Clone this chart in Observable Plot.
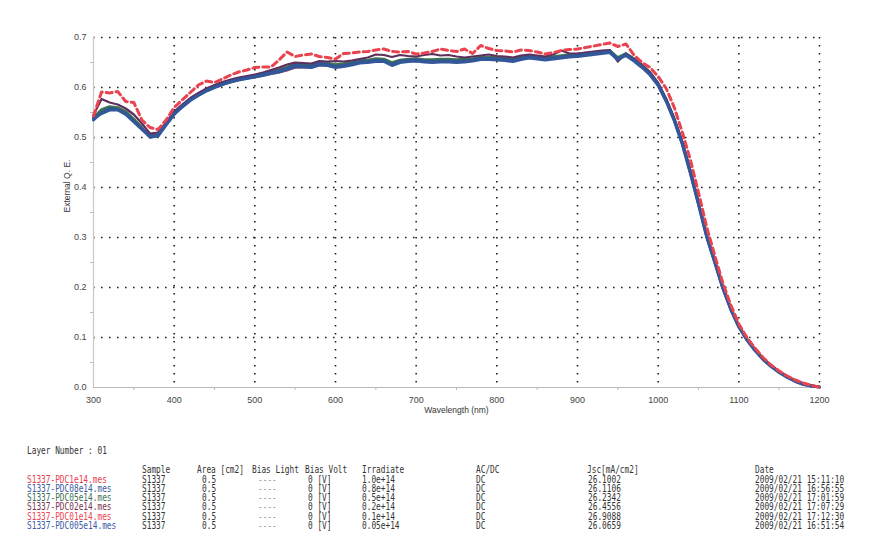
<!DOCTYPE html>
<html>
<head>
<meta charset="utf-8">
<script src="https://cdn.jsdelivr.net/npm/d3@7"></script>
<script src="https://cdn.jsdelivr.net/npm/@observablehq/plot@0.6"></script>
<style>
  html, body { margin: 0; padding: 0; background: #fff; }
  body { position: relative; width: 894px; height: 552px; overflow: hidden; }
  #chart { position: absolute; left: 0; top: 0; }
  .cell { position: absolute; font: 10px "DejaVu Sans Mono", monospace; line-height: 9px;
          transform: scaleX(0.78); transform-origin: 0 0; white-space: pre; color: #333; }
</style>
</head>
<body>
<div id="chart"></div>
<div id="table"></div>
<script>
// ---------- data ----------
const wavelength = [300,310,320,330,340,350,360,370,380,390,400,410,420,430,440,450,460,470,480,490,500,510,520,530,540,550,560,570,580,590,600,610,620,630,640,650,660,670,680,690,700,710,720,730,740,750,760,770,780,790,800,810,820,830,840,850,860,870,880,890,900,910,920,930,940,950,960,970,980,990,1000,1010,1020,1030,1040,1050,1060,1070,1080,1090,1100,1110,1120,1130,1140,1150,1160,1170,1180,1190,1200];

const qe_PDC1e14 = [0.543,0.591,0.589,0.592,0.572,0.570,0.535,0.520,0.516,0.535,
  0.560,0.575,0.590,0.605,0.613,0.610,0.617,0.625,0.631,0.635,
  0.640,0.641,0.641,0.655,0.671,0.662,0.665,0.667,0.662,0.660,
  0.657,0.668,0.669,0.671,0.672,0.675,0.677,0.672,0.671,0.672,
  0.667,0.669,0.672,0.677,0.674,0.672,0.677,0.668,0.684,0.678,
  0.674,0.673,0.671,0.675,0.674,0.671,0.667,0.670,0.674,0.676,
  0.677,0.680,0.683,0.686,0.689,0.682,0.687,0.665,0.650,0.640,
  0.622,0.598,0.560,0.510,0.455,0.390,0.322,0.265,0.210,0.165,
  0.127,0.100,0.079,0.060,0.045,0.033,0.023,0.015,0.009,0.004,0.001];

const qe_PDC08e14 = [0.535,0.550,0.558,0.556,0.548,0.533,0.518,0.503,0.505,0.527,
  0.548,0.562,0.575,0.585,0.594,0.601,0.607,0.612,0.616,0.619,
  0.622,0.626,0.630,0.633,0.638,0.644,0.643,0.642,0.648,0.646,
  0.642,0.644,0.647,0.651,0.652,0.654,0.654,0.646,0.652,0.654,
  0.655,0.653,0.652,0.653,0.653,0.652,0.653,0.655,0.658,0.658,
  0.657,0.656,0.654,0.658,0.661,0.659,0.657,0.659,0.661,0.663,
  0.664,0.666,0.668,0.670,0.672,0.657,0.666,0.655,0.642,0.627,
  0.606,0.574,0.535,0.488,0.430,0.368,0.303,0.252,0.200,0.157,
  0.122,0.096,0.075,0.057,0.043,0.031,0.021,0.013,0.007,0.003,0.001];

const qe_PDC05e14 = [0.540,0.556,0.562,0.560,0.552,0.537,0.520,0.500,0.503,0.528,
  0.550,0.564,0.577,0.587,0.596,0.603,0.609,0.614,0.618,0.621,
  0.624,0.628,0.632,0.636,0.641,0.647,0.646,0.645,0.650,0.649,
  0.646,0.648,0.651,0.654,0.655,0.658,0.657,0.650,0.655,0.657,
  0.658,0.656,0.656,0.657,0.657,0.656,0.657,0.658,0.661,0.661,
  0.660,0.659,0.658,0.661,0.664,0.662,0.661,0.662,0.664,0.666,
  0.667,0.669,0.670,0.672,0.674,0.660,0.668,0.658,0.645,0.630,
  0.608,0.576,0.537,0.490,0.432,0.369,0.304,0.253,0.201,0.158,
  0.123,0.097,0.076,0.058,0.044,0.032,0.022,0.014,0.008,0.004,0.001];

const qe_PDC02e14 = [0.545,0.577,0.570,0.566,0.558,0.546,0.528,0.508,0.510,0.530,
  0.552,0.566,0.579,0.589,0.598,0.605,0.611,0.616,0.620,0.623,
  0.626,0.630,0.635,0.640,0.646,0.650,0.649,0.648,0.653,0.652,
  0.653,0.652,0.654,0.657,0.660,0.666,0.665,0.661,0.665,0.663,
  0.662,0.665,0.667,0.664,0.665,0.662,0.660,0.662,0.664,0.666,
  0.663,0.662,0.660,0.664,0.666,0.664,0.662,0.666,0.674,0.668,
  0.668,0.670,0.672,0.674,0.675,0.652,0.668,0.657,0.645,0.630,
  0.609,0.577,0.538,0.491,0.433,0.370,0.305,0.254,0.201,0.158,
  0.123,0.097,0.076,0.058,0.044,0.032,0.022,0.014,0.008,0.004,0.001];

const qe_PDC01e14 = [0.538,0.553,0.560,0.557,0.549,0.534,0.518,0.505,0.507,0.529,
  0.549,0.563,0.575,0.585,0.594,0.600,0.606,0.611,0.615,0.618,
  0.621,0.624,0.627,0.630,0.634,0.640,0.640,0.640,0.645,0.644,
  0.641,0.643,0.646,0.650,0.651,0.653,0.653,0.647,0.651,0.653,
  0.654,0.652,0.651,0.652,0.652,0.651,0.652,0.654,0.657,0.657,
  0.656,0.655,0.653,0.657,0.660,0.658,0.656,0.658,0.660,0.662,
  0.663,0.665,0.667,0.669,0.671,0.658,0.666,0.656,0.643,0.628,
  0.608,0.577,0.538,0.492,0.435,0.372,0.307,0.255,0.203,0.159,
  0.123,0.097,0.076,0.058,0.043,0.031,0.021,0.013,0.007,0.003,0.001];

const qe_PDC005e14 = [0.538,0.548,0.555,0.555,0.546,0.531,0.516,0.501,0.503,0.525,
  0.546,0.561,0.574,0.584,0.593,0.600,0.606,0.611,0.615,0.618,
  0.621,0.624,0.628,0.631,0.636,0.641,0.641,0.640,0.645,0.644,
  0.640,0.642,0.645,0.649,0.650,0.652,0.652,0.644,0.650,0.652,
  0.653,0.651,0.650,0.651,0.651,0.650,0.651,0.653,0.656,0.656,
  0.655,0.654,0.652,0.656,0.659,0.657,0.655,0.657,0.659,0.661,
  0.662,0.664,0.666,0.668,0.670,0.656,0.664,0.653,0.640,0.625,
  0.604,0.572,0.533,0.486,0.428,0.366,0.302,0.251,0.199,0.156,
  0.121,0.095,0.074,0.056,0.042,0.030,0.020,0.012,0.006,0.003,0.001];

const xTicks = [300,400,500,600,700,800,900,1000,1100,1200];
const yTicks = [0.0,0.1,0.2,0.3,0.4,0.5,0.6,0.7];
const yMinorTicks = [0.05,0.15,0.25,0.35,0.45,0.55,0.65];
const xMinorTicks = [350,450,550,650,750,850,950,1050,1150];

// table
const fileNames = ["S1337-PDC1e14.mes","S1337-PDC08e14.mes","S1337-PDC05e14.mes","S1337-PDC02e14.mes","S1337-PDC01e14.mes","S1337-PDC005e14.mes"];
const fileColors = ["#e8414e","#3a5a9e","#3d6e55","#7a3450","#ee4452","#3a5aa6"];
const samples = ["S1337","S1337","S1337","S1337","S1337","S1337"];
const areas = ["0.5","0.5","0.5","0.5","0.5","0.5"];
const biasLight = ["----","----","----","----","----","----"];
const biasVolt = ["0 [V]","0 [V]","0 [V]","0 [V]","0 [V]","0 [V]"];
const irradiate = ["1.0e+14","0.8e+14","0.5e+14","0.2e+14","0.1e+14","0.05e+14"];
const acdc = ["DC","DC","DC","DC","DC","DC"];
const jsc = ["26.1002","26.1106","26.2342","26.4556","26.9088","26.0659"];
const dates = ["2009/02/21 15:11:10","2009/02/21 16:56:55","2009/02/21 17:01:59","2009/02/21 17:07:29","2009/02/21 17:12:30","2009/02/21 16:51:54"];

// ---------- chart ----------
const seriesDefs = [
  {name: "PDC01e14", values: qe_PDC01e14, color: "#e8414e", width: 2.2, dash: null},
  {name: "PDC05e14", values: qe_PDC05e14, color: "#3d7452", width: 2.6, dash: null},
  {name: "PDC02e14", values: qe_PDC02e14, color: "#5e2f5c", width: 2.2, dash: null},
  {name: "PDC08e14", values: qe_PDC08e14, color: "#2f5596", width: 3.0, dash: null},
  {name: "PDC005e14", values: qe_PDC005e14, color: "#33589a", width: 3.0, dash: null},
  {name: "PDC1e14", values: qe_PDC1e14, color: "#e8434f", width: 3.0, dash: "6,4"}
];

const lineMarks = seriesDefs.map(s => Plot.lineY(
  wavelength.map((w, i) => ({w, v: s.values[i]})),
  {x: "w", y: "v", stroke: s.color, strokeWidth: s.width, strokeDasharray: s.dash,
   strokeLinejoin: "round"}
));

const chart = Plot.plot({
  width: 894,
  height: 425,
  marginLeft: 93,
  marginRight: 75,
  marginTop: 37,
  marginBottom: 38,
  style: {fontFamily: "Liberation Sans, Arial, sans-serif", background: "#fff"},
  x: {type: "linear", domain: [300, 1200]},
  y: {type: "linear", domain: [0, 0.7]},
  marks: [
    Plot.gridX(xTicks.slice(1), {stroke: "#222", strokeOpacity: 1, strokeWidth: 1.6, strokeDasharray: "1.6,6.4"}),
    Plot.gridY(yTicks.slice(1), {stroke: "#222", strokeOpacity: 1, strokeWidth: 1.6, strokeDasharray: "1.6,6.4"}),
    Plot.ruleY([0], {stroke: "#b8b8b8", strokeWidth: 1.2}),
    Plot.ruleX([300], {stroke: "#c8c8c8", strokeWidth: 1.2}),
    Plot.axisY({ticks: yMinorTicks, tickFormat: () => "", tickSize: 3, tickPadding: 0, stroke: "#bbb", label: null}),
    Plot.axisX({ticks: xMinorTicks, tickFormat: () => "", tickSize: 3, anchor: "bottom", stroke: "#bbb", label: null}),
    Plot.axisY({ticks: yTicks, tickFormat: d => d.toFixed(1), tickSize: 0, tickPadding: 7, fontSize: 9, fill: "#444", label: null}),
    Plot.axisX({ticks: xTicks, tickFormat: d => String(d), tickSize: 0, tickPadding: 9, fontSize: 9, fill: "#444", label: null}),
    ...lineMarks,
    Plot.text(["External Q. E."], {frameAnchor: "left", dx: -26, rotate: -90, fontSize: 8.5, fill: "#333", text: d => d}),
    Plot.text(["Wavelength (nm)"], {frameAnchor: "bottom", dy: 25, fontSize: 8.5, fill: "#333", text: d => d})
  ]
});
document.getElementById("chart").appendChild(chart);

// ---------- table ----------
const table = document.getElementById("table");
function cell(txt, left, center, color) {
  const s = document.createElement("div");
  s.className = "cell";
  s.textContent = txt;
  s.style.left = left + "px";
  s.style.top = (center - 4.5) + "px";
  if (color) s.style.color = color;
  table.appendChild(s);
}
cell("Layer Number : 01", 27, 450);
const hdrY = 469.5;
cell("Sample", 142, hdrY);
cell("Area [cm2]", 197, hdrY);
cell("Bias Light", 252, hdrY);
cell("Bias Volt", 305, hdrY);
cell("Irradiate", 362, hdrY);
cell("AC/DC", 476, hdrY);
cell("Jsc[mA/cm2]", 587, hdrY);
cell("Date", 755, hdrY);
const rowY = [479, 488.3, 497.6, 506.9, 516.2, 525.5];
fileNames.forEach((f, i) => {
  const y = rowY[i];
  cell(f, 27, y, fileColors[i]);
  cell(samples[i], 142, y);
  cell(areas[i], 202, y);
  cell(biasLight[i], 258, y, "#999");
  cell(biasVolt[i], 308, y);
  cell(irradiate[i], 362, y);
  cell(acdc[i], 476, y);
  cell(jsc[i], 588, y);
  cell(dates[i], 755, y);
});
</script>
</body>
</html>
